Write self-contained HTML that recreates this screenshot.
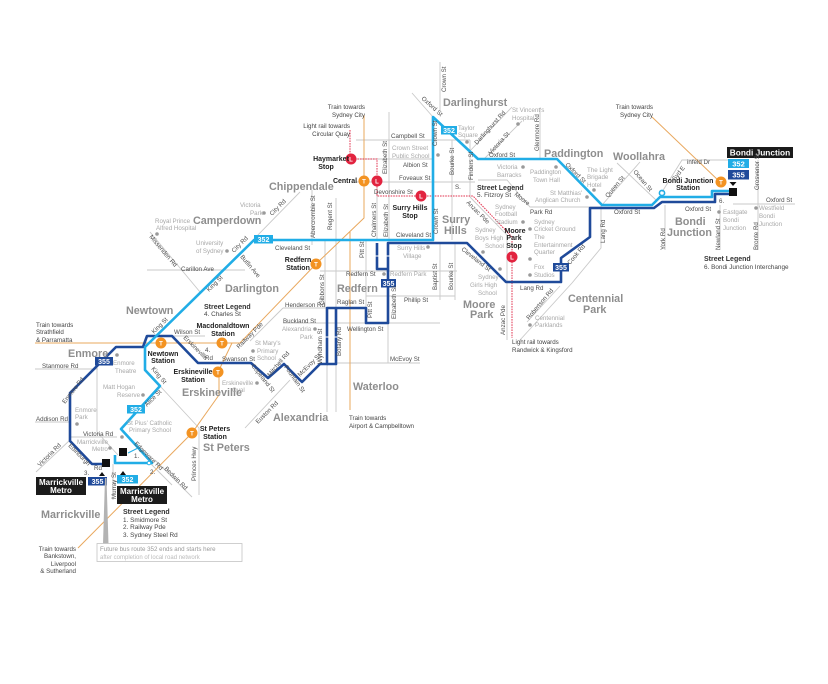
<!DOCTYPE html>
<html><head><meta charset="utf-8">
<style>
html,body{margin:0;padding:0;background:#fff;}
svg{display:block;font-family:"Liberation Sans",Arial,sans-serif;}
.st{font-size:6.2px;fill:#4d4d4d;}
.lm{font-size:6.2px;fill:#a8a8a8;}
.sb{font-size:10.8px;font-weight:bold;fill:#8e8e8e;}
.stn{font-size:7px;font-weight:bold;fill:#222;}
.lh{font-size:7px;font-weight:bold;fill:#333;}
.li{font-size:6.4px;fill:#444;}
.tr{font-size:6.2px;fill:#444;}
.bw{font-weight:bold;fill:#fff;}
</style></head>
<body>
<svg width="828" height="684" viewBox="0 0 828 684" xmlns="http://www.w3.org/2000/svg">
<rect width="828" height="684" fill="#fff"/>

<!-- Roads -->
<g stroke="#c9c9c9" stroke-width="0.9" fill="none">
<path d="M440,62 L440,110 M412,93 L433,117 M468,153 L512,107 M484,159 L522,121 M540,108 L540,160
M356,140 L470,140 M389,112 L389,240 M377,188 L377,240 M452,140 L452,240 M470,140 L470,197
M356,159 L433,159 M356,182 L475,182 M478,180 L507,180 L530,207 L602,207
M470,197 L507,235 L507,340 M601,205 L601,248 L572,283 M602,205 L640,162 M617,163 L656,200
M662,192 L682,160 L728,160 M665,205 L665,250 M720,205 L720,250 M758,160 L758,250 M733,204 L795,204
M527,322 L560,286 M572,283 L520,340
M320,271 L457,271 M440,243 L440,300 M455,243 L455,300 M366,296 L455,296 M366,240 L366,323
M325,240 L325,308 M312,190 L312,245 M336,198 L336,308 M283,308 L366,308 M283,323 L440,323
M336,363 L420,363 M388,323 L388,363 M327,364 L327,412 M336,364 L336,412 M283,308 L250,341 M245,428 L290,380
M147,270 L245,270 M150,232 L200,292 M253,240 L300,192 M172,336 L205,336 M35,369 L98,369 M97,355 L97,432
M35,422 L70,422 M70,437 L117,437 M160,386 L199,428 L199,495 M70,440 L36,472 M113,464 L113,500
M150,463 L172,485 M155,460 L192,497 M97,432 L118,455"/>
</g>

<!-- Train lines -->
<g stroke="#e9a85e" stroke-width="1" fill="none">
<path d="M364,115 L364,218 L316,264 L240,343 L35,343"/>
<path d="M232,343 L219,370 L219,395 L192,433 L78,548"/>
<path d="M350,232 L350,410"/>
<path d="M652,117 L720,182"/>
</g>

<!-- Light rail -->
<g stroke="#e2334f" stroke-width="1" fill="none" stroke-dasharray="1.6 1">
<path d="M350,130 L350,159 L377,159 L377,196 L473,196 L512,237 L512,338"/>
</g>

<!-- Routes -->
<g fill="none" stroke-linejoin="round">
<path d="M106,464 L92,464 L70,441 L70,393 L116,347 L143,347 L147,336 L172,336 L198,363 L251,363 L268,378 L284,364 L302,382 L320,364 L327,364 L327,308 L366,308 L366,323 L388,323 L388,243 L467,243 L506,282 L561,282 L561,258 L590,237 L590,208 L654,208 L662,202 L715,202 L715,194 L730,194" stroke="#1f4a9a" stroke-width="2.6"/>
<path d="M327,364 L336,364 L336,308 M377,243 L377,269 L388,269" stroke="#1f4a9a" stroke-width="2.6"/>
<path d="M115,455 L115,463 L152,463 L121,429 L160,386 L145,370 L145,347 L254,240 L433,240 L433,117 L478,159 L557,159 L602,205 L652,205 L660,197 L712,197 L712,191 L730,191" stroke="#21ade6" stroke-width="2.6"/>
<circle cx="662" cy="193" r="2.6" stroke="#21ade6" stroke-width="1.6"/>
<path d="M140,447 L128,453" stroke="#21ade6" stroke-width="1"/>
</g>
<g stroke="#fff" stroke-width="1">
<path d="M325,337 L329,337 M334,337 L338,337 M375,256 L379,256 M386,256 L390,256"/>
</g>
<circle cx="149" cy="463" r="1.8" fill="#fff" stroke="#21ade6" stroke-width="1"/>

<!-- Badges -->
<g>
<rect x="254" y="235" width="19" height="8.5" fill="#21ade6"/><text x="263.5" y="242" class="bw" font-size="7" text-anchor="middle">352</text>
<rect x="441" y="126" width="16" height="8.5" fill="#21ade6"/><text x="449" y="133" class="bw" font-size="7" text-anchor="middle">352</text>
<rect x="127" y="405" width="18" height="8.5" fill="#21ade6"/><text x="136" y="412" class="bw" font-size="7" text-anchor="middle">352</text>
<rect x="95" y="357" width="18" height="8.5" fill="#1f4a9a"/><text x="104" y="364" class="bw" font-size="7" text-anchor="middle">355</text>
<rect x="381" y="279" width="15" height="8.5" fill="#1f4a9a"/><text x="388.5" y="286" class="bw" font-size="7" text-anchor="middle">355</text>
<rect x="553" y="263" width="16" height="8.5" fill="#1f4a9a"/><text x="561" y="270" class="bw" font-size="7" text-anchor="middle">355</text>
<rect x="727" y="147" width="66" height="11" fill="#1b1b1b"/><text x="760" y="155.5" class="bw" font-size="8.3" text-anchor="middle">Bondi Junction</text>
<rect x="728" y="159" width="21" height="9" fill="#21ade6"/><text x="738.5" y="166.5" class="bw" font-size="7.5" text-anchor="middle">352</text>
<rect x="728" y="170" width="21" height="9.5" fill="#1f4a9a"/><text x="738.5" y="177.5" class="bw" font-size="7.5" text-anchor="middle">355</text>
<polygon points="729.5,182 736.5,182 733,186" fill="#111"/>
<rect x="729" y="188" width="8" height="8" fill="#111"/>
<rect x="102" y="459" width="8" height="8" fill="#111"/>
<rect x="119" y="448" width="8" height="8" fill="#111"/>
<polygon points="99,476 105,476 102,472" fill="#111"/>
<polygon points="120,475 126,475 123,471" fill="#111"/>
<rect x="36" y="477" width="50" height="18" fill="#1b1b1b"/>
<text x="61" y="485" class="bw" font-size="8" text-anchor="middle">Marrickville</text>
<text x="61" y="493" class="bw" font-size="8" text-anchor="middle">Metro</text>
<rect x="88" y="477" width="19" height="8.5" fill="#1f4a9a"/><text x="97.5" y="484" class="bw" font-size="7" text-anchor="middle">355</text>
<rect x="117" y="475" width="21" height="8.5" fill="#21ade6"/><text x="127.5" y="482" class="bw" font-size="7" text-anchor="middle">352</text>
<rect x="117" y="486" width="50" height="18" fill="#1b1b1b"/>
<text x="142" y="494" class="bw" font-size="8" text-anchor="middle">Marrickville</text>
<text x="142" y="502" class="bw" font-size="8" text-anchor="middle">Metro</text>
<polygon points="105,478 106.5,478 108.5,544 103,544" fill="#b3b3b3"/>
<rect x="97" y="543.5" width="145" height="18" fill="#fff" stroke="#c4c4c4" stroke-width="0.8"/>
<text x="100" y="551" font-size="6.2" fill="#999">Future bus route 352 ends and starts here</text>
<text x="100" y="559" font-size="6" fill="#bbb">after completion of local road network</text>
</g>

<!-- Station circles -->
<g font-weight="bold" font-size="6" text-anchor="middle" fill="#fff">
<g fill="#f39322">
<circle cx="364" cy="181" r="5.5"/><circle cx="316" cy="264" r="5.5"/><circle cx="222" cy="343" r="5.5"/>
<circle cx="161" cy="343" r="5.5"/><circle cx="218" cy="372" r="5.5"/><circle cx="192" cy="433" r="5.5"/><circle cx="721" cy="182" r="5.5"/>
</g>
<g fill="#e2233f">
<circle cx="351" cy="159" r="5.5"/><circle cx="377" cy="181" r="5.5"/><circle cx="421" cy="196" r="5.5"/><circle cx="512" cy="257" r="5.5"/>
</g>
<text x="364" y="183.3" fill="#fff">T</text><text x="316" y="266.3" fill="#fff">T</text><text x="222" y="345.3" fill="#fff">T</text>
<text x="161" y="345.3" fill="#fff">T</text><text x="218" y="374.3" fill="#fff">T</text><text x="192" y="435.3" fill="#fff">T</text><text x="721" y="184.3" fill="#fff">T</text>
<text x="351" y="161.3" fill="#fff">L</text><text x="377" y="183.3" fill="#fff">L</text><text x="421" y="198.3" fill="#fff">L</text><text x="512" y="259.3" fill="#fff">L</text>
</g>

<!-- Landmark dots -->
<g fill="#9a9a9a">
<circle cx="518" cy="124" r="1.8"/><circle cx="467" cy="142" r="1.8"/><circle cx="438" cy="155" r="1.8"/>
<circle cx="523" cy="167" r="1.8"/><circle cx="556" cy="167" r="1.8"/><circle cx="594" cy="190" r="1.8"/><circle cx="587" cy="197" r="1.8"/>
<circle cx="523" cy="222" r="1.8"/><circle cx="483" cy="252" r="1.8"/><circle cx="530" cy="229" r="1.8"/><circle cx="530" cy="259" r="1.8"/>
<circle cx="530" cy="275" r="1.8"/><circle cx="530" cy="325" r="1.8"/><circle cx="500" cy="269" r="1.8"/><circle cx="428" cy="247" r="1.8"/>
<circle cx="384" cy="274" r="1.8"/><circle cx="315" cy="329" r="1.8"/><circle cx="719" cy="212" r="1.8"/><circle cx="756" cy="208" r="1.8"/>
<circle cx="264" cy="213" r="1.8"/><circle cx="157" cy="234" r="1.8"/><circle cx="227" cy="251" r="1.8"/><circle cx="253" cy="351" r="1.8"/>
<circle cx="257" cy="383" r="1.8"/><circle cx="117" cy="355" r="1.8"/><circle cx="143" cy="395" r="1.8"/><circle cx="77" cy="424" r="1.8"/>
<circle cx="122" cy="437" r="1.8"/><circle cx="110" cy="448" r="1.8"/>
</g>

<!-- Suburbs -->
<g class="sb">
<text x="443" y="106" class="sb">Darlinghurst</text>
<text x="544" y="157" class="sb">Paddington</text>
<text x="613" y="160" class="sb">Woollahra</text>
<text x="269" y="190" class="sb">Chippendale</text>
<text x="193" y="224" class="sb">Camperdown</text>
<text x="225" y="292" class="sb">Darlington</text>
<text x="126" y="314" class="sb">Newtown</text>
<text x="68" y="357" class="sb">Enmore</text>
<text x="182" y="396" class="sb">Erskineville</text>
<text x="203" y="451" class="sb">St Peters</text>
<text x="273" y="421" class="sb">Alexandria</text>
<text x="353" y="390" class="sb">Waterloo</text>
<text x="337" y="292" class="sb">Redfern</text>
<text x="442" y="223" class="sb">Surry</text><text x="444" y="234" class="sb">Hills</text>
<text x="463" y="308" class="sb">Moore</text><text x="470" y="318" class="sb">Park</text>
<text x="568" y="302" class="sb">Centennial</text><text x="583" y="313" class="sb">Park</text>
<text x="675" y="225" class="sb">Bondi</text><text x="667" y="236" class="sb">Junction</text>
<text x="41" y="518" class="sb">Marrickville</text>
</g>

<!-- Station labels -->
<g class="stn" text-anchor="middle">
<text x="331" y="161" class="stn">Haymarket</text><text x="326" y="169" class="stn">Stop</text>
<text x="345" y="183" class="stn">Central</text>
<text x="410" y="210" class="stn">Surry Hills</text><text x="410" y="218" class="stn">Stop</text>
<text x="515" y="233" class="stn">Moore</text><text x="514" y="240" class="stn">Park</text><text x="514" y="248" class="stn">Stop</text>
<text x="298" y="262" class="stn">Redfern</text><text x="298" y="270" class="stn">Station</text>
<text x="223" y="328" class="stn">Macdonaldtown</text><text x="223" y="336" class="stn">Station</text>
<text x="163" y="356" class="stn">Newtown</text><text x="163" y="363" class="stn">Station</text>
<text x="193" y="374" class="stn">Erskineville</text><text x="193" y="382" class="stn">Station</text>
<text x="215" y="431" class="stn">St Peters</text><text x="215" y="439" class="stn">Station</text>
<text x="688" y="183" class="stn">Bondi Junction</text><text x="688" y="190" class="stn">Station</text>
</g>

<!-- Legends -->
<text x="204" y="309" class="lh">Street Legend</text><text x="204" y="316" class="li">4. Charles St</text>
<text x="477" y="190" class="lh">Street Legend</text><text x="477" y="197" class="li">5. Fitzroy St</text>
<text x="704" y="261" class="lh">Street Legend</text><text x="704" y="269" class="li">6. Bondi Junction Interchange</text>
<text x="123" y="514" class="lh">Street Legend</text>
<text x="123" y="522" class="li">1. Smidmore St</text>
<text x="123" y="529" class="li">2. Railway Pde</text>
<text x="123" y="537" class="li">3. Sydney Steel Rd</text>

<!-- Train / light rail notes -->
<g class="tr">
<text x="365" y="109" text-anchor="end">Train towards</text><text x="365" y="117" text-anchor="end">Sydney City</text>
<text x="350" y="128" text-anchor="end">Light rail towards</text><text x="350" y="136" text-anchor="end">Circular Quay</text>
<text x="653" y="109" text-anchor="end">Train towards</text><text x="653" y="117" text-anchor="end">Sydney City</text>
<text x="512" y="344">Light rail towards</text><text x="512" y="352">Randwick &amp; Kingsford</text>
<text x="349" y="420">Train towards</text><text x="349" y="428">Airport &amp; Campbelltown</text>
<text x="36" y="327">Train towards</text><text x="36" y="334">Strathfield</text><text x="36" y="342">&amp; Parramatta</text>
<text x="76" y="551" text-anchor="end">Train towards</text><text x="76" y="558" text-anchor="end">Bankstown,</text>
<text x="76" y="566" text-anchor="end">Liverpool</text><text x="76" y="573" text-anchor="end">&amp; Sutherland</text>
</g>

<!-- Street names -->
<g class="st">
<text transform="translate(446,92) rotate(-90)">Crown St</text>
<text transform="translate(421,99) rotate(42)">Oxford St</text>
<text transform="translate(437,146) rotate(-90)">Crown St</text>
<text transform="translate(477,145) rotate(-48)">Darlinghurst Rd</text>
<text transform="translate(491,155) rotate(-48)">Victoria St</text>
<text transform="translate(539,151) rotate(-90)">Glenmore Rd</text>
<text x="489" y="157">Oxford St</text>
<text x="391" y="138">Campbell St</text>
<text x="403" y="167">Albion St</text>
<text x="399" y="180">Foveaux St</text>
<text x="374" y="194">Devonshire St</text>
<text transform="translate(454,175) rotate(-90)">Bourke St</text>
<text transform="translate(473,180) rotate(-90)">Finders St</text>
<text x="455" y="189">S.</text>
<text transform="translate(387,174) rotate(-90)">Elizabeth St</text>
<text transform="translate(376,237) rotate(-90)">Chalmers St</text>
<text transform="translate(388,237) rotate(-90)">Elizabeth St</text>
<text transform="translate(438,234) rotate(-90)">Crown St</text>
<text x="396" y="237">Cleveland St</text>
<text transform="translate(514,195) rotate(38)">Moore</text>
<text x="530" y="214">Park Rd</text>
<text transform="translate(466,203) rotate(45)">Anzac Pde</text>
<text transform="translate(565,165) rotate(45)">Oxford St</text>
<text transform="translate(608,198) rotate(-50)">Queen St</text>
<text transform="translate(633,172) rotate(50)">Ocean St</text>
<text transform="translate(675,181) rotate(-52)">Syd E</text>
<text x="687" y="164">infeld Dr</text>
<text transform="translate(759,190) rotate(-90)">Grosvenor St</text>
<text x="766" y="202">Oxford St</text>
<text x="685" y="211">Oxford St</text>
<text x="614" y="214">Oxford St</text>
<text x="719" y="203">6.</text>
<text transform="translate(665,250) rotate(-90)">York Rd</text>
<text transform="translate(720,250) rotate(-90)">Newland St</text>
<text transform="translate(758,250) rotate(-90)">Bronte Rd</text>
<text transform="translate(605,243) rotate(-90)">Lang Rd</text>
<text transform="translate(570,265) rotate(-50)">Cook Rd</text>
<text x="520" y="290">Lang Rd</text>
<text transform="translate(529,320) rotate(-50)">Robertson Rd</text>
<text transform="translate(505,335) rotate(-90)">Anzac Pde</text>
<text transform="translate(461,250) rotate(38)">Cleveland St</text>
<text x="346" y="276">Redfern St</text>
<text transform="translate(437,290) rotate(-90)">Baptist St</text>
<text transform="translate(453,290) rotate(-90)">Bourke St</text>
<text x="404" y="302">Phillip St</text>
<text transform="translate(364,258) rotate(-90)">Pitt St</text>
<text transform="translate(372,318) rotate(-90)">Pitt St</text>
<text x="337" y="304">Raglan St</text>
<text x="285" y="307">Henderson Rd</text>
<text transform="translate(324,305) rotate(-90)">Gibbons St</text>
<text x="283" y="323">Buckland St</text>
<text x="347" y="331">Wellington St</text>
<text transform="translate(322,364) rotate(-90)">Wyndham St</text>
<text transform="translate(341,356) rotate(-90)">Botany Rd</text>
<text transform="translate(396,319) rotate(-90)">Elizabeth St</text>
<text x="390" y="361">McEvoy St</text>
<text transform="translate(300,377) rotate(-45)">McEvoy St</text>
<text transform="translate(284,367) rotate(55)">Fountain St</text>
<text transform="translate(270,377) rotate(-50)">Mitchell Rd</text>
<text transform="translate(251,366) rotate(52)">Copeland St</text>
<text transform="translate(258,424) rotate(-45)">Euston Rd</text>
<text transform="translate(315,238) rotate(-90)">Abercrombie St</text>
<text transform="translate(332,230) rotate(-90)">Regent St</text>
<text x="275" y="250">Cleveland St</text>
<text transform="translate(272,216) rotate(-45)">City Rd</text>
<text transform="translate(234,253) rotate(-45)">City Rd</text>
<text transform="translate(240,257) rotate(50)">Butlin Ave</text>
<text transform="translate(149,237) rotate(50)">Missenden Rd</text>
<text x="181" y="271">Carillon Ave</text>
<text transform="translate(209,292) rotate(-45)">King St</text>
<text transform="translate(154,334) rotate(-45)">King St</text>
<text x="174" y="334">Wilson St</text>
<text transform="translate(183,338) rotate(45)">Erskineville</text>
<text x="205" y="360">Rd</text>
<text x="205" y="352">4.</text>
<text x="222" y="361">Swanson St</text>
<text transform="translate(239,349) rotate(-45)">Railway Pde</text>
<text x="42" y="368">Stanmore Rd</text>
<text transform="translate(151,369) rotate(50)">King St</text>
<text transform="translate(147,407) rotate(-45)">Alice St</text>
<text transform="translate(65,404) rotate(-52)">Enmore Rd</text>
<text x="36" y="421">Addison Rd</text>
<text x="83" y="436">Victoria Rd</text>
<text transform="translate(40,467) rotate(-45)">Victoria Rd</text>
<text transform="translate(68,446) rotate(45)">Edinburgh</text>
<text x="94" y="470">Rd</text>
<text x="84" y="475">3.</text>
<text transform="translate(116,499) rotate(-90)">Murray St</text>
<text transform="translate(134,444) rotate(45)">Edgeware Rd</text>
<text x="150" y="474">2.</text>
<text x="134" y="458">1.</text>
<text transform="translate(164,469) rotate(45)">Bedwin Rd</text>
<text transform="translate(196,481) rotate(-90)">Princes Hwy</text>
</g>

<!-- Landmarks -->
<g class="lm">
<text x="512" y="112">St Vincent's</text><text x="512" y="120">Hospital</text>
<text x="458" y="130">Taylor</text><text x="458" y="137">Square</text>
<text x="392" y="150">Crown Street</text><text x="392" y="158">Public School</text>
<text x="497" y="169">Victoria</text><text x="497" y="177">Barracks</text>
<text x="530" y="174">Paddington</text><text x="533" y="182">Town Hall</text>
<text x="587" y="172">The Light</text><text x="587" y="179">Brigade</text><text x="587" y="187">Hotel</text>
<text x="550" y="195">St Matthias'</text><text x="535" y="202">Anglican Church</text>
<text x="495" y="209">Sydney</text><text x="495" y="216">Football</text><text x="495" y="224">Stadium</text>
<text x="475" y="232">Sydney</text><text x="475" y="240">Boys High</text><text x="485" y="248">School</text>
<text x="534" y="224">Sydney</text><text x="534" y="231">Cricket Ground</text><text x="534" y="239">The</text>
<text x="534" y="247">Entertainment</text><text x="534" y="254">Quarter</text>
<text x="534" y="269">Fox</text><text x="534" y="277">Studios</text>
<text x="535" y="320">Centennial</text><text x="535" y="327">Parklands</text>
<text x="478" y="279">Sydney</text><text x="470" y="287">Girls High</text><text x="478" y="295">School</text>
<text x="397" y="250">Surry Hills</text><text x="403" y="258">Village</text>
<text x="390" y="276">Redfern Park</text>
<text x="282" y="331">Alexandria</text><text x="300" y="339">Park</text>
<text x="723" y="214">Eastgate</text><text x="723" y="222">Bondi</text><text x="723" y="230">Junction</text>
<text x="759" y="210">Westfield</text><text x="759" y="218">Bondi</text><text x="759" y="226">Junction</text>
<text x="240" y="207">Victoria</text><text x="250" y="215">Park</text>
<text x="155" y="223">Royal Prince</text><text x="156" y="230">Alfred Hospital</text>
<text x="196" y="245">University</text><text x="196" y="253">of Sydney</text>
<text x="255" y="345">St Mary's</text><text x="257" y="353">Primary</text><text x="257" y="360">School</text>
<text x="222" y="385">Erskineville</text><text x="232" y="392">Oval</text>
<text x="113" y="365">Enmore</text><text x="115" y="373">Theatre</text>
<text x="103" y="389">Matt Hogan</text><text x="117" y="397">Reserve</text>
<text x="75" y="412">Enmore</text><text x="75" y="419">Park</text>
<text x="127" y="425">St Pius' Catholic</text><text x="129" y="432">Primary School</text>
<text x="77" y="444">Marrickville</text><text x="92" y="451">Metro</text>
</g>
</svg>
</body></html>
